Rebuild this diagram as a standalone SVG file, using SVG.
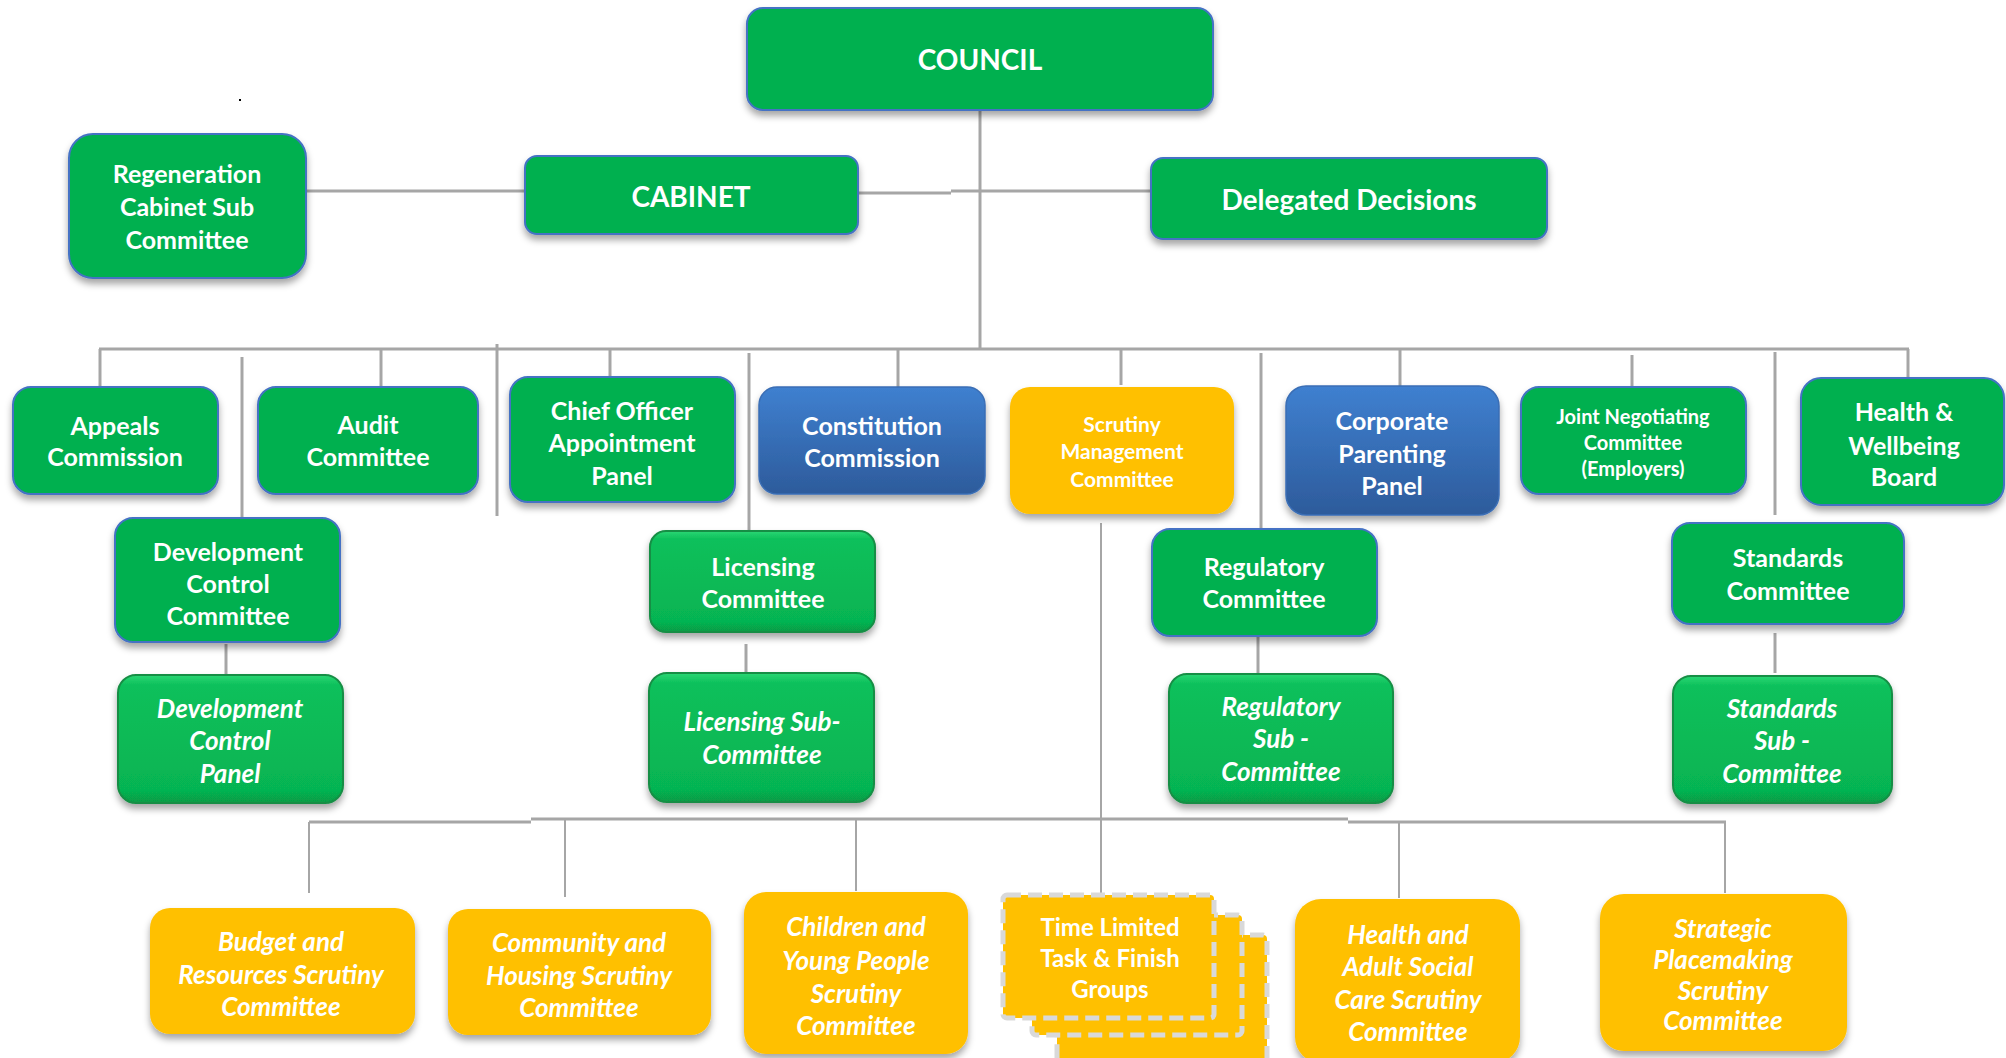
<svg xmlns="http://www.w3.org/2000/svg" width="2006" height="1058" viewBox="0 0 2006 1058">
<defs>
<filter id="sh" x="-10%" y="-10%" width="120%" height="130%">
<feDropShadow dx="0" dy="5" stdDeviation="3.5" flood-color="#000" flood-opacity="0.35"/>
</filter>
<linearGradient id="blue" x1="0" y1="0" x2="0" y2="1">
<stop offset="0" stop-color="#3F80D0"/>
<stop offset="1" stop-color="#2D5B9B"/>
</linearGradient>
<linearGradient id="gloss" x1="0" y1="0" x2="0" y2="1">
<stop offset="0" stop-color="#2BD774"/>
<stop offset="0.08" stop-color="#0CC05B"/>
<stop offset="0.9" stop-color="#06B452"/>
<stop offset="1" stop-color="#079A45"/>
</linearGradient>
<style>
.g{fill:#00B050;stroke:#4472C4;stroke-width:2;filter:url(#sh)}
.gl{fill:url(#gloss);stroke:#158E45;stroke-width:2;filter:url(#sh)}
.b{fill:url(#blue);stroke:#3A6EB5;stroke-width:1.5;filter:url(#sh)}
.y{fill:#FFC000;filter:url(#sh)}
.tl{fill:#FFC000;stroke:#D9D9D9;stroke-width:5;stroke-dasharray:14 7}
text{font-family:Lato,"Open Sans","Liberation Sans",sans-serif;font-weight:700;fill:#fff;text-anchor:middle;dominant-baseline:central}
.f25{font-size:25px}
.f28{font-size:28px}
.f21{font-size:21px}
.f20{font-size:20px}
.f24{font-size:24px}
.f26{font-size:26px}
.i{font-style:italic}
.c{stroke:#A6A6A6;stroke-width:3;fill:none}
.c2{stroke:#A6A6A6;stroke-width:2;fill:none}
</style>
</defs>
<rect width="2006" height="1058" fill="#fff"/>
<rect x="239" y="99" width="2" height="2" fill="#000"/>

<g id="connectors">
<line class="c" x1="980" y1="110" x2="980" y2="348"/>
<line class="c" x1="306" y1="191" x2="525" y2="191"/>
<line class="c" x1="858" y1="193" x2="951" y2="193"/>
<line class="c" x1="951" y1="191" x2="1151" y2="191"/>
<line class="c" x1="99" y1="349" x2="1909" y2="349"/>
<line class="c" x1="100" y1="349" x2="100" y2="386"/>
<line class="c" x1="242" y1="357" x2="242" y2="519"/>
<line class="c" x1="381" y1="349" x2="381" y2="387"/>
<line class="c" x1="497" y1="344" x2="497" y2="516"/>
<line class="c" x1="610" y1="349" x2="610" y2="378"/>
<line class="c" x1="749" y1="353" x2="749" y2="531"/>
<line class="c" x1="898" y1="349" x2="898" y2="387"/>
<line class="c" x1="1121" y1="349" x2="1121" y2="385"/>
<line class="c" x1="1261" y1="353" x2="1261" y2="529"/>
<line class="c" x1="1400" y1="349" x2="1400" y2="386"/>
<line class="c" x1="1632" y1="355" x2="1632" y2="387"/>
<line class="c" x1="1775" y1="352" x2="1775" y2="515"/>
<line class="c" x1="1908" y1="349" x2="1908" y2="379"/>
<line class="c" x1="226" y1="644" x2="226" y2="674"/>
<line class="c" x1="746" y1="644" x2="746" y2="676"/>
<line class="c" x1="1258" y1="634" x2="1258" y2="674"/>
<line class="c" x1="1775" y1="633" x2="1775" y2="673"/>
<line class="c2" x1="1101" y1="523" x2="1101" y2="896"/>
<line class="c" x1="309" y1="822" x2="531" y2="822"/>
<line class="c" x1="531" y1="819" x2="1348" y2="819"/>
<line class="c" x1="1348" y1="822" x2="1726" y2="822"/>
<line class="c2" x1="309" y1="822" x2="309" y2="893"/>
<line class="c2" x1="565" y1="819" x2="565" y2="897"/>
<line class="c2" x1="856" y1="819" x2="856" y2="891"/>
<line class="c2" x1="1399" y1="822" x2="1399" y2="898"/>
<line class="c2" x1="1725" y1="822" x2="1725" y2="893"/>
</g>

<g id="council"><rect class="g" x="747" y="8" width="466" height="102" rx="16"/><text class="f28" x="980" y="59">COUNCIL</text></g>
<g id="regen"><rect class="g" x="69" y="134" width="237" height="144" rx="24"/><text class="f25" x="187" y="173">Regeneration</text><text class="f25" x="187" y="206">Cabinet Sub</text><text class="f25" x="187" y="239">Committee</text></g>
<g id="cabinet"><rect class="g" x="525" y="156" width="333" height="78" rx="12"/><text class="f28" x="691" y="196">CABINET</text></g>
<g id="delegated"><rect class="g" x="1151" y="158" width="396" height="81" rx="12"/><text class="f28" x="1349" y="199">Delegated Decisions</text></g>

<g id="appeals"><rect class="g" x="13" y="387" width="205" height="107" rx="18"/><text class="f25" x="115" y="425">Appeals</text><text class="f25" x="115" y="456">Commission</text></g>
<g id="audit"><rect class="g" x="258" y="387" width="220" height="107" rx="18"/><text class="f25" x="368" y="424">Audit</text><text class="f25" x="368" y="456">Committee</text></g>
<g id="chief"><rect class="g" x="510" y="377" width="225" height="125" rx="18"/><text class="f25" x="622" y="410">Chief Officer</text><text class="f25" x="622" y="442">Appointment</text><text class="f25" x="622" y="475">Panel</text></g>
<g id="constitution"><rect class="b" x="759" y="387" width="226" height="107" rx="18"/><text class="f25" x="872" y="425">Constitution</text><text class="f25" x="872" y="457">Commission</text></g>
<g id="scrutiny-mgmt"><rect class="y" x="1010" y="387" width="224" height="127" rx="20"/><text class="f21" x="1122" y="423">Scrutiny</text><text class="f21" x="1122" y="450">Management</text><text class="f21" x="1122" y="478">Committee</text></g>
<g id="corporate"><rect class="b" x="1286" y="386" width="213" height="129" rx="20"/><text class="f25" x="1392" y="420">Corporate</text><text class="f25" x="1392" y="453">Parenting</text><text class="f25" x="1392" y="485">Panel</text></g>
<g id="joint"><rect class="g" x="1521" y="387" width="225" height="107" rx="18"/><text class="f20" x="1633" y="416">Joint Negotiating</text><text class="f20" x="1633" y="442">Committee</text><text class="f20" x="1633" y="468">(Employers)</text></g>
<g id="health-wellbeing"><rect class="g" x="1801" y="378" width="203" height="127" rx="20"/><text class="f25" x="1904" y="411">Health &amp;</text><text class="f25" x="1904" y="445">Wellbeing</text><text class="f25" x="1904" y="476">Board</text></g>

<g id="dev-control"><rect class="g" x="115" y="518" width="225" height="124" rx="18"/><text class="f25" x="228" y="551">Development</text><text class="f25" x="228" y="583">Control</text><text class="f25" x="228" y="615">Committee</text></g>
<g id="licensing"><rect class="gl" x="650" y="531" width="225" height="101" rx="16"/><text class="f25" x="763" y="566">Licensing</text><text class="f25" x="763" y="598">Committee</text></g>
<g id="regulatory"><rect class="g" x="1152" y="529" width="225" height="107" rx="18"/><text class="f25" x="1264" y="566">Regulatory</text><text class="f25" x="1264" y="598">Committee</text></g>
<g id="standards"><rect class="g" x="1672" y="523" width="232" height="101" rx="18"/><text class="f25" x="1788" y="557">Standards</text><text class="f25" x="1788" y="590">Committee</text></g>

<g id="dev-panel"><rect class="gl" x="118" y="675" width="225" height="128" rx="18"/><text class="f26 i" x="230" y="708">Development</text><text class="f26 i" x="230" y="740">Control</text><text class="f26 i" x="230" y="773">Panel</text></g>
<g id="licensing-sub"><rect class="gl" x="649" y="673" width="225" height="129" rx="18"/><text class="f26 i" x="762" y="721">Licensing Sub-</text><text class="f26 i" x="762" y="754">Committee</text></g>
<g id="regulatory-sub"><rect class="gl" x="1169" y="674" width="224" height="129" rx="18"/><text class="f26 i" x="1281" y="706">Regulatory</text><text class="f26 i" x="1281" y="738">Sub -</text><text class="f26 i" x="1281" y="771">Committee</text></g>
<g id="standards-sub"><rect class="gl" x="1673" y="676" width="219" height="127" rx="18"/><text class="f26 i" x="1782" y="708">Standards</text><text class="f26 i" x="1782" y="740">Sub -</text><text class="f26 i" x="1782" y="773">Committee</text></g>

<g id="budget"><rect class="y" x="150" y="908" width="265" height="126" rx="20"/><text class="f26 i" x="281" y="941">Budget and</text><text class="f26 i" x="281" y="974">Resources Scrutiny</text><text class="f26 i" x="281" y="1006">Committee</text></g>
<g id="community"><rect class="y" x="448" y="909" width="263" height="126" rx="20"/><text class="f26 i" x="579" y="942">Community and</text><text class="f26 i" x="579" y="975">Housing Scrutiny</text><text class="f26 i" x="579" y="1007">Committee</text></g>
<g id="children"><rect class="y" x="744" y="892" width="224" height="162" rx="22"/><text class="f26 i" x="856" y="926">Children and</text><text class="f26 i" x="856" y="960">Young People</text><text class="f26 i" x="856" y="993">Scrutiny</text><text class="f26 i" x="856" y="1025">Committee</text></g>
<g id="time-limited"><rect class="tl" x="1057" y="935" width="210" height="140" rx="4"/><rect class="tl" x="1032" y="915" width="210" height="120" rx="4"/><rect class="tl" x="1003" y="895" width="211" height="123" rx="4"/><text class="f24" x="1110" y="926">Time Limited</text><text class="f24" x="1110" y="957">Task &amp; Finish</text><text class="f24" x="1110" y="988">Groups</text></g>
<g id="health-adult"><rect class="y" x="1295" y="899" width="225" height="164" rx="26"/><text class="f26 i" x="1408" y="934">Health and</text><text class="f26 i" x="1408" y="966">Adult Social</text><text class="f26 i" x="1408" y="999">Care Scrutiny</text><text class="f26 i" x="1408" y="1031">Committee</text></g>
<g id="strategic"><rect class="y" x="1600" y="894" width="247" height="157" rx="24"/><text class="f26 i" x="1723" y="928">Strategic</text><text class="f26 i" x="1723" y="959">Placemaking</text><text class="f26 i" x="1723" y="990">Scrutiny</text><text class="f26 i" x="1723" y="1020">Committee</text></g>
</svg>
